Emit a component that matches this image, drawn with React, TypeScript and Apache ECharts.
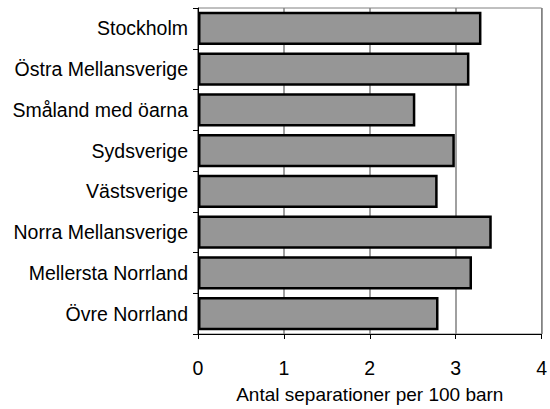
import React, { useEffect, useRef } from "react";
import * as echarts from "echarts";

const categories = [
  "Stockholm",
  "Östra Mellansverige",
  "Småland med öarna",
  "Sydsverige",
  "Västsverige",
  "Norra Mellansverige",
  "Mellersta Norrland",
  "Övre Norrland",
];
const values = [3.3, 3.16, 2.53, 2.99, 2.79, 3.42, 3.19, 2.8];
const axisName = "Antal separationer per 100 barn";

export default function App() {
  const ref = useRef<HTMLDivElement>(null);
  useEffect(() => {
    const chart = echarts.init(ref.current!, null, { renderer: "svg" });
    chart.setOption({
      animation: false,
      backgroundColor: "#ffffff",
      textStyle: { fontFamily: "Liberation Sans, Arial, sans-serif" },
      grid: {
        left: 198,
        right: 6,
        top: 8,
        bottom: 69,
        show: true,
        borderColor: "#808080",
        borderWidth: 1,
      },
      xAxis: {
        type: "value",
        min: 0,
        max: 4,
        interval: 1,
        name: axisName,
        nameLocation: "middle",
        nameGap: 51,
        nameTextStyle: { fontSize: 19, color: "#000", verticalAlign: "top" },
        axisLine: { show: true, lineStyle: { color: "#000", width: 1 } },
        axisTick: { show: true, inside: false, length: 5, lineStyle: { color: "#000" } },
        axisLabel: { fontSize: 19.5, color: "#000", margin: 24 },
        splitLine: { show: true, lineStyle: { color: "#808080", width: 1.5 } },
      },
      yAxis: {
        type: "category",
        data: categories,
        inverse: true,
        axisLine: { show: true, lineStyle: { color: "#000", width: 1 } },
        axisTick: { show: true, inside: false, length: 5, lineStyle: { color: "#000" } },
        axisLabel: { fontSize: 19.5, color: "#000", margin: 10 },
        splitLine: { show: false },
      },
      series: [
        {
          type: "bar",
          data: values,
          barCategoryGap: "18%",
          itemStyle: { color: "#969696", borderColor: "#000", borderWidth: 2.5 },
        },
      ],
    });
    return () => chart.dispose();
  }, []);
  return (
    <div
      ref={ref}
      style={{ position: "absolute", left: 0, top: 0, width: 550, height: 409 }}
    />
  );
}
